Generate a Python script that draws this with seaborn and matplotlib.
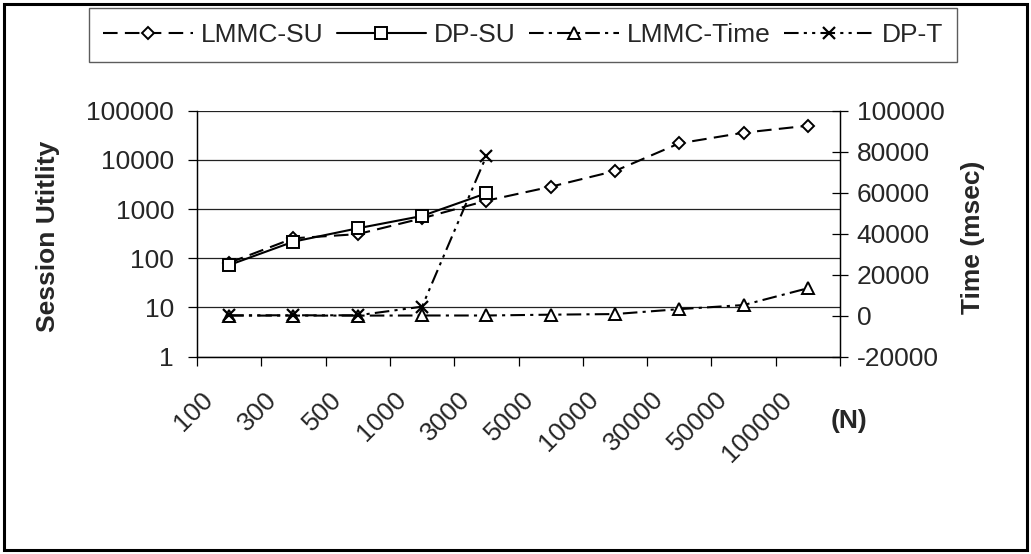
import numpy as np
import pandas as pd
import matplotlib
matplotlib.use("Agg")
import matplotlib.pyplot as plt
import matplotlib.transforms as mtransforms
from matplotlib.patches import Rectangle
import seaborn as sns

# ---- data ----
categories = ['100', '300', '500', '1000', '3000', '5000', '10000', '30000', '50000', '100000']
lmmc_su = [81, 255, 310, 650, 1480, 2850, 5950, 21700, 35700, 49500]
dp_su = [73, 218, 407, 725, 2100]
lmmc_time = [50, 50, 50, 100, 100, 500, 800, 3200, 5200, 13400]
dp_t = [200, 200, 200, 4400, 77900]
left_ticks = [1, 10, 100, 1000, 10000, 100000]
right_ticks = [-20000, 0, 20000, 40000, 60000, 80000, 100000]

sns.set_theme(style="white")
plt.rcParams['font.family'] = ['Liberation Sans', 'DejaVu Sans']
FS = 19

W, H = 1031, 554
fig = plt.figure(figsize=(W / 100, H / 100), dpi=100)
ax = fig.add_axes([197 / W, 1 - 356.7 / H, (840 - 197) / W, (356.7 - 110.7) / H])
ax2 = ax.twinx()

n = len(categories)
pos = np.arange(n) + 0.5

df_su = pd.DataFrame({'x': pos, 'v': lmmc_su})
df_dp = pd.DataFrame({'x': pos[:len(dp_su)], 'v': dp_su})
df_lt = pd.DataFrame({'x': pos, 'v': lmmc_time})
df_dt = pd.DataFrame({'x': pos[:len(dp_t)], 'v': dp_t})

lw = 1.5
mk = dict(markerfacecolor='white', markeredgecolor='black', markeredgewidth=1.4)

sns.lineplot(data=df_su, x='x', y='v', ax=ax, color='black', lw=lw,
             linestyle=(0, (7, 3.5)), marker='D', markersize=6.5, label='LMMC-SU', **mk)
sns.lineplot(data=df_dp, x='x', y='v', ax=ax, color='black', lw=lw,
             linestyle='-', marker='s', markersize=8.5, label='DP-SU', **mk)
sns.lineplot(data=df_lt, x='x', y='v', ax=ax2, color='black', lw=lw,
             linestyle=(0, (7, 2.5, 1.5, 2.5)), marker='^', markersize=9, label='LMMC-Time', **mk)
sns.lineplot(data=df_dt, x='x', y='v', ax=ax2, color='black', lw=lw,
             linestyle=(0, (7, 2.5, 1.5, 2.5, 1.5, 2.5)), marker='x', markersize=9,
             label='DP-T', markeredgecolor='black', markeredgewidth=1.6)

# left axis (log)
ax.set_yscale('log')
ax.set_ylim(1, 100000)
ax.set_xlim(0, n)
ax.set_yticks(left_ticks)
ax.set_yticklabels([str(v) for v in left_ticks])
ax.yaxis.set_minor_locator(matplotlib.ticker.NullLocator())
ax.grid(axis='y', which='major', color='#222222', lw=0.9)
ax.set_axisbelow(True)
ax.tick_params(axis='y', which='major', direction='out', length=6.5, width=0.9,
               color='black', labelsize=FS, pad=10, left=True)

# x ticks: boundary marks + rotated labels at centres
ax.set_xticks(np.arange(n + 1), minor=True)
ax.set_xticks(pos)
ax.set_xticklabels(categories, rotation=45, rotation_mode='anchor', ha='right', va='center')
ax.tick_params(axis='x', which='minor', direction='out', length=6.5, width=0.9, color='black', bottom=True)
ax.tick_params(axis='x', which='major', length=0, labelsize=FS, pad=28)
off = mtransforms.ScaledTranslation(-20 / 100, 0, fig.dpi_scale_trans)
for lab in ax.get_xticklabels():
    lab.set_transform(lab.get_transform() + off)
ax.set_xlabel('')
ax.set_ylabel('')

# right axis (linear)
ax2.set_ylim(-20000, 100000)
ax2.set_yticks(right_ticks)
ax2.set_yticklabels([str(v) for v in right_ticks])
ax2.tick_params(axis='y', direction='inout', length=12, width=0.9, color='black',
                labelsize=FS, pad=6, right=True)
ax2.set_ylabel('')
ax2.grid(False)

for a in (ax, ax2):
    for s in ['left', 'bottom', 'right']:
        a.spines[s].set_visible(True)
        a.spines[s].set_color('black')
        a.spines[s].set_linewidth(0.9)
    a.spines['top'].set_visible(False)

for a in (ax, ax2):
    lg = a.get_legend()
    if lg is not None:
        lg.remove()

h1, l1 = ax.get_legend_handles_labels()
h2, l2 = ax2.get_legend_handles_labels()
leg = fig.legend(h1 + h2, l1 + l2, loc='center', bbox_to_anchor=(523 / W, 1 - 35 / H),
                 ncol=4, fontsize=FS, frameon=True, fancybox=False, handlelength=3.4,
                 handletextpad=0.3, columnspacing=0.5, borderpad=0.55, numpoints=1)
leg.get_frame().set_edgecolor('#333333')
leg.get_frame().set_linewidth(1.0)

fig.text(48 / W, 1 - 236 / H, 'Session Utitlity', rotation=90, ha='center', va='center',
         fontsize=FS, fontweight='bold')
fig.text(973 / W, 1 - 237 / H, 'Time (msec)', rotation=90, ha='center', va='center',
         fontsize=FS, fontweight='bold')
fig.text(849 / W, 1 - 421 / H, '(N)', ha='center', va='center', fontsize=FS, fontweight='bold')

fig.patches.append(Rectangle((4 / W, 4 / H), 1 - 8 / W, 1 - 8 / H, transform=fig.transFigure,
                             fill=False, edgecolor='black', linewidth=2.2))

fig.savefig('out.png', dpi=100, facecolor='white')
